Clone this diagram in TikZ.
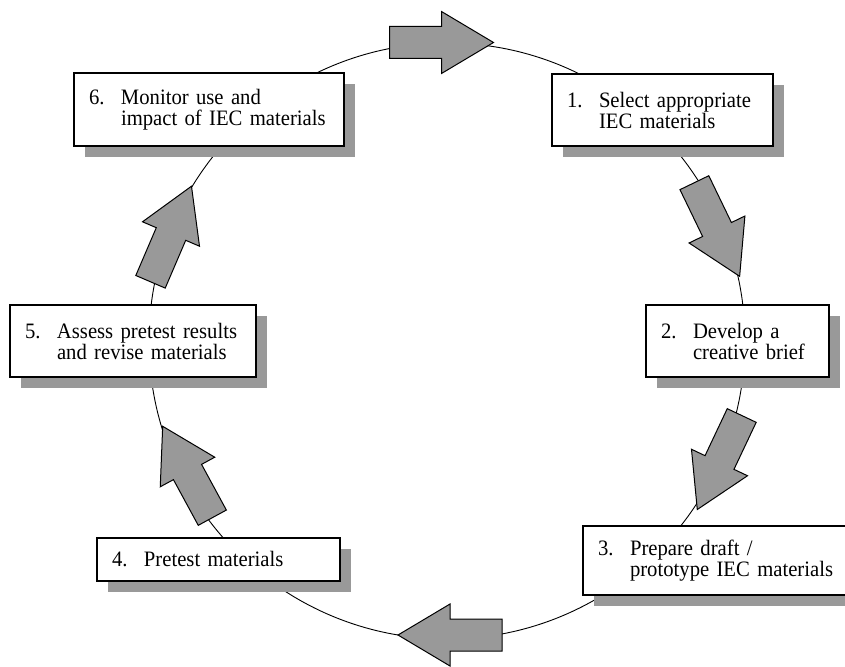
\documentclass[tikz,border=0pt]{standalone}
\usepackage{fontspec}
\setmainfont{Liberation Serif}[FakeStretch=0.94]
\usetikzlibrary{shadows}
\definecolor{arrowgray}{HTML}{999999}
\definecolor{shadowgray}{HTML}{999999}
\newcommand\flowarrow[3]{\draw[flowarrowstyle, shift={(#1,#2)}, rotate=#3]
  (-52,16) -- (0,16) -- (0,31) -- (52,0) -- (0,-31) -- (0,-16) -- (-52,-16) -- cycle;}
\newcommand\num[1]{\makebox[32pt][l]{#1}}
\newcommand\ind{\hspace*{32pt}}
\begin{document}
\begin{tikzpicture}[x=1pt,y=-1pt,
  stepbox/.style={draw, line width=1.2pt, fill=white, rectangle, inner xsep=15pt, inner ysep=0pt,
    align=left, font=\fontsize{22}{21}\selectfont,
    drop shadow={shadow xshift=11pt, shadow yshift=-11pt, fill=shadowgray, opacity=1}},
  flowarrowstyle/.style={draw, line width=1pt, fill=arrowgray, line join=miter},
  ring/.style={draw, line width=0.9pt}]
\useasboundingbox (0,0) rectangle (845,666);
\coordinate (c) at (447,341);
\draw[ring] (c) circle [radius=298pt];
\node[stepbox, text width=191pt, minimum height=72pt] (b1) at (662.5,110)
  {\num{1.}Select appropriate\\\ind IEC materials};
\node[stepbox, text width=153pt, minimum height=72pt] (b2) at (737.5,341)
  {\num{2.}Develop a\\\ind creative brief};
\node[stepbox, text width=240pt, minimum height=69pt] (b3) at (718,560.5)
  {\num{3.}Prepare draft /\\\ind prototype IEC materials};
\node[stepbox, text width=213pt, minimum height=43pt] (b4) at (218.5,559.5)
  {\num{4.}Pretest materials};
\node[stepbox, text width=216pt, minimum height=72pt] (b5) at (133,341)
  {\num{5.}Assess pretest results\\\ind and revise materials};
\node[stepbox, text width=240pt, minimum height=73pt] (b6) at (209,109.5)
  {\num{6.}Monitor use and\\\ind impact of IEC materials};
\flowarrow{441.5}{42.5}{0}
\flowarrow{717}{229.5}{-64.2}
\flowarrow{719.5}{462.5}{-115.3}
\flowarrow{450}{635}{180}
\flowarrow{187.5}{472}{118.5}
\flowarrow{171}{234}{66.8}
\end{tikzpicture}
\end{document}
